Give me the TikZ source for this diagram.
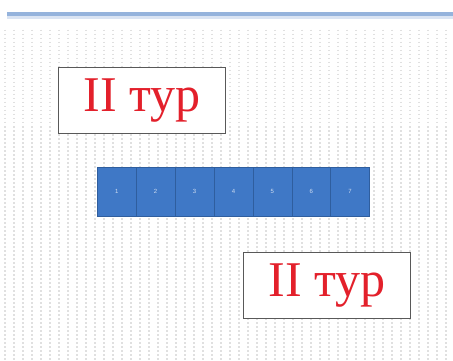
\documentclass[tikz,border=0pt]{standalone}
\usepackage{fontspec}
\setmainfont{Liberation Serif}
\newfontfamily\sansf{Liberation Sans}
\definecolor{cellblue}{HTML}{3F78C6}
\definecolor{celledge}{HTML}{2F5E9E}
\definecolor{tred}{HTML}{E3202B}
\definecolor{topline}{HTML}{95B3DC}
\begin{document}
\begin{tikzpicture}[x=1pt,y=-1pt,
  labelbox/.style={draw=black!65,line width=0.8pt,fill=white,minimum width=167pt,minimum height=66pt,inner sep=0pt,anchor=north west,font=\fontsize{50}{50}\selectfont,text=tred},
  cell/.style={draw=celledge,line width=0.6pt,fill=cellblue,minimum width=38.9pt,minimum height=49pt,inner sep=0pt,anchor=north west,font=\sansf\fontsize{6}{6}\selectfont,text=white!75!cellblue},
  bgdots/.style={draw=black!12,line width=1.2pt,dash pattern=on 1.5pt off 2.5pt}]
\useasboundingbox (0,0) rectangle (453,361);
\fill[white] (0,0) rectangle (453,361);
% faint background pattern
\foreach \i in {0,...,50}{
  \draw[bgdots] ({5+\i*9},30) -- ({5+\i*9},361);
}
% top blue rule
\fill[topline] (7,12) rectangle (453,16);
\fill[topline!35] (7,16) rectangle (453,19);
% boxes
\node[labelbox] (t1) at (58,67) {II тур};
\node[labelbox] (t2) at (243,252) {II тур};
% blue bar of cells
\foreach \k in {1,...,7}{
  \node[cell] (c\k) at ({97+(\k-1)*38.9},167) {\k};
}
\end{tikzpicture}
\end{document}
